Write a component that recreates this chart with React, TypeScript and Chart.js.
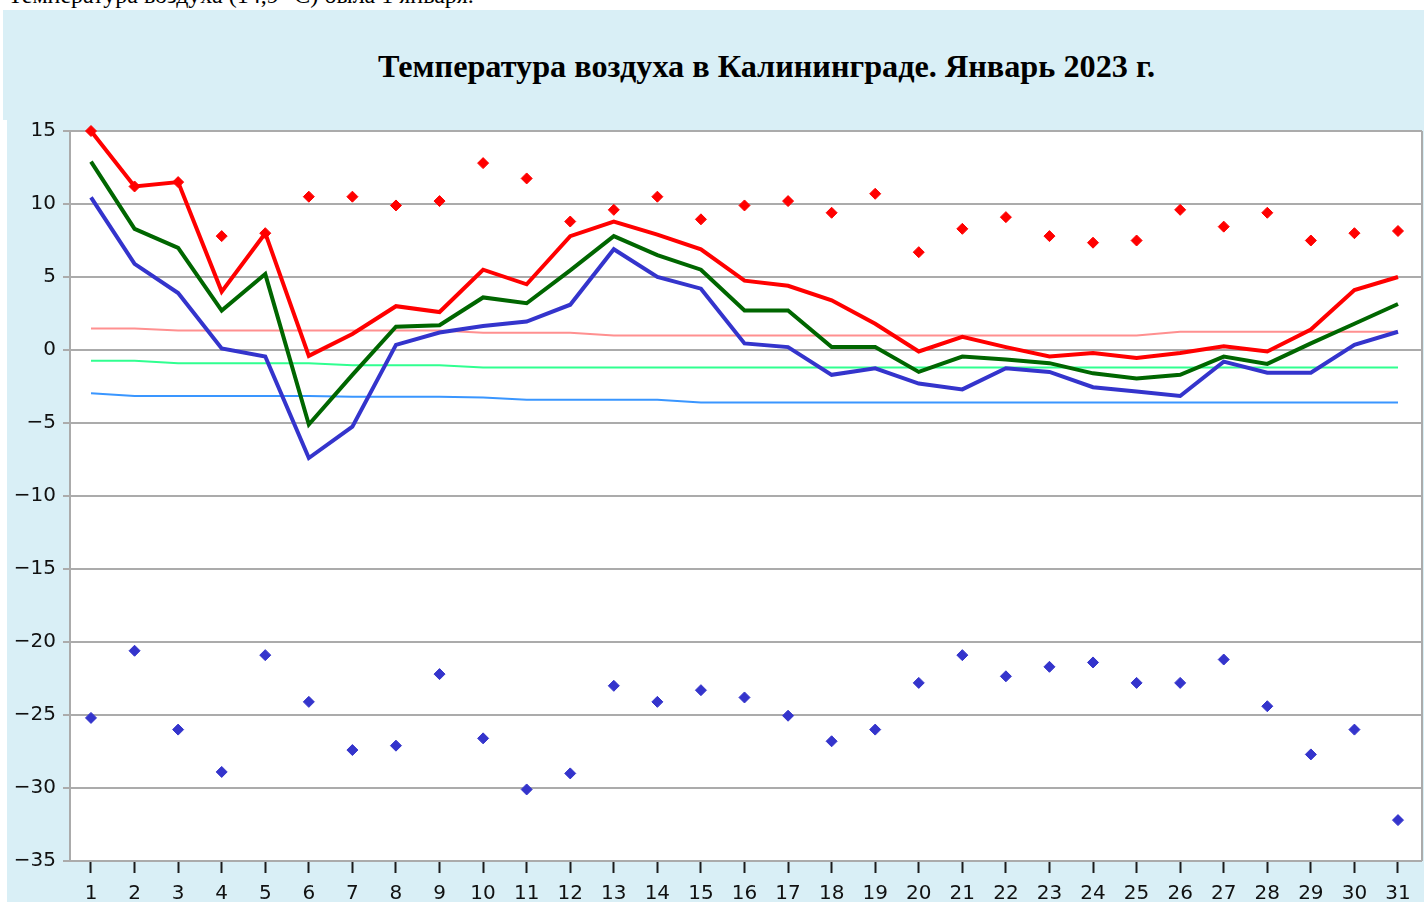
import React, { useEffect, useRef } from "react";
import { Chart, registerables } from "chart.js";

Chart.register(...registerables);

const days = [1, 2, 3, 4, 5, 6, 7, 8, 9, 10, 11, 12, 13, 14, 15, 16, 17, 18, 19, 20, 21, 22, 23, 24, 25, 26, 27, 28, 29, 30, 31];

const maxTemp = [15.0, 11.2, 11.5, 4.0, 8.0, -0.4, 1.1, 3.0, 2.6, 5.5, 4.5, 7.8, 8.8, 7.9, 6.9, 4.75, 4.4, 3.4, 1.8, -0.1, 0.9, 0.2, -0.45, -0.2, -0.55, -0.2, 0.25, -0.1, 1.4, 4.1, 5.0];
const meanTemp = [12.9, 8.3, 7.0, 2.7, 5.2, -5.1, -1.7, 1.6, 1.7, 3.6, 3.2, 5.45, 7.8, 6.5, 5.5, 2.7, 2.7, 0.2, 0.2, -1.5, -0.45, -0.65, -0.9, -1.6, -1.95, -1.7, -0.45, -0.95, 0.45, 1.8, 3.15];
const minTemp = [10.45, 5.9, 3.9, 0.1, -0.45, -7.4, -5.25, 0.35, 1.2, 1.65, 1.95, 3.1, 6.9, 5.0, 4.2, 0.45, 0.2, -1.7, -1.25, -2.3, -2.7, -1.25, -1.5, -2.55, -2.85, -3.15, -0.8, -1.55, -1.55, 0.35, 1.25];

const recordMax = [15.0, 11.2, 11.5, 7.8, 8.0, 10.5, 10.5, 9.9, 10.2, 12.8, 11.75, 8.8, 9.6, 10.5, 8.95, 9.9, 10.2, 9.4, 10.7, 6.7, 8.3, 9.1, 7.8, 7.35, 7.5, 9.6, 8.45, 9.4, 7.5, 8.0, 8.15];
const recordMin = [-25.2, -20.6, -26.0, -28.9, -20.9, -24.1, -27.4, -27.1, -22.2, -26.6, -30.1, -29.0, -23.0, -24.1, -23.3, -23.8, -25.05, -26.8, -26.0, -22.8, -20.9, -22.35, -21.7, -21.4, -22.8, -22.8, -21.2, -24.4, -27.7, -26.0, -32.2];

const normMax = [1.48, 1.48, 1.33, 1.33, 1.33, 1.33, 1.33, 1.33, 1.33, 1.18, 1.18, 1.18, 1.0, 1.0, 1.0, 1.0, 1.0, 1.0, 1.0, 1.0, 1.0, 1.0, 1.0, 1.0, 1.0, 1.25, 1.25, 1.25, 1.25, 1.25, 1.25];
const normMean = [-0.73, -0.73, -0.9, -0.9, -0.9, -0.9, -1.05, -1.05, -1.05, -1.2, -1.2, -1.2, -1.2, -1.2, -1.2, -1.2, -1.2, -1.2, -1.2, -1.2, -1.2, -1.2, -1.2, -1.2, -1.2, -1.2, -1.2, -1.2, -1.2, -1.2, -1.2];
const normMin = [-2.97, -3.15, -3.15, -3.15, -3.15, -3.15, -3.2, -3.2, -3.2, -3.25, -3.4, -3.4, -3.4, -3.4, -3.6, -3.6, -3.6, -3.6, -3.6, -3.6, -3.6, -3.6, -3.6, -3.6, -3.6, -3.6, -3.6, -3.6, -3.6, -3.6, -3.6];

const yTicks = [15, 10, 5, 0, -5, -10, -15, -20, -25, -30, -35];

const TITLE = "Температура воздуха в Калининграде. Январь 2023 г.";
const TOP_TEXT = "Температура воздуха (14,9 °C) была 1 января.";

const RED = "#ff0000";
const BLUE = "#3434cc";
const GREEN = "#006600";
const PANEL = "#d9eff6";
const GRID = "#ababab";

const pts = (arr: number[]) => arr.map((v, i) => ({ x: days[i], y: v }));

const bgPlugin = {
  id: "plotBg",
  beforeDraw(chart: any) {
    const { ctx, chartArea: a } = chart;
    ctx.save();
    ctx.fillStyle = "#ffffff";
    ctx.fillRect(a.left, a.top, a.right - a.left, a.bottom - a.top);
    ctx.restore();
  },
  beforeDatasetsDraw(chart: any) {
    const { ctx, chartArea: a } = chart;
    ctx.save();
    ctx.strokeStyle = GRID;
    ctx.lineWidth = 2;
    ctx.beginPath();
    ctx.moveTo(a.right, a.top);
    ctx.lineTo(a.right, a.bottom);
    ctx.stroke();
    ctx.restore();
  },
};

export default function App() {
  const canvasRef = useRef<HTMLCanvasElement>(null);
  const titleRef = useRef<HTMLDivElement>(null);

  useEffect(() => {
    const t = titleRef.current;
    if (t) {
      t.style.transform = "none";
      const w = t.getBoundingClientRect().width;
      if (w > 0) t.style.transform = `scaleX(${777 / w})`;
    }
    const canvas = canvasRef.current;
    if (!canvas) return;
    const line = (data: number[], color: string, width: number) => ({
      data: pts(data),
      borderColor: color,
      backgroundColor: color,
      borderWidth: width,
      pointRadius: 0,
      tension: 0,
      fill: false,
      clip: false as any,
    });
    const marks = (data: number[], color: string) => ({
      data: pts(data),
      showLine: false,
      borderColor: color,
      backgroundColor: color,
      pointStyle: "rectRot" as any,
      pointRadius: 5.5,
      pointBorderWidth: 1,
      pointBackgroundColor: color,
      pointBorderColor: color,
      clip: false as any,
    });
    const chart = new Chart(canvas, {
      type: "line",
      data: {
        datasets: [
          { label: "Абсолютный максимум", ...marks(recordMax, RED) },
          { label: "Абсолютный минимум", ...marks(recordMin, BLUE) },
          { label: "Максимальная", ...line(maxTemp, RED, 4) },
          { label: "Средняя", ...line(meanTemp, GREEN, 4) },
          { label: "Минимальная", ...line(minTemp, BLUE, 4) },
          { label: "Норма максимальной", ...line(normMax, "#ff9090", 2) },
          { label: "Норма средней", ...line(normMean, "#30ff90", 2) },
          { label: "Норма минимальной", ...line(normMin, "#3a96ff", 2) },
        ] as any,
      },
      options: {
        responsive: false,
        animation: false,
        devicePixelRatio: 1,
        events: [],
        layout: { autoPadding: false, padding: { top: 131, right: 2, left: 0, bottom: 0 } },
        plugins: {
          legend: { display: false },
          tooltip: { enabled: false },
          title: { display: false },
        },
        scales: {
          x: {
            type: "linear",
            min: 0.518,
            max: 31.551,
            afterFit: (s: any) => {
              s.height = 41;
              s.paddingLeft = 0;
              s.paddingRight = 0;
            },
            afterBuildTicks: (s: any) => {
              s.ticks = days.map((d) => ({ value: d }));
            },
            grid: {
              drawOnChartArea: false,
              drawTicks: true,
              tickLength: 12,
              tickWidth: 2,
              tickColor: "#1c1c1c",
            },
            border: { display: false },
            ticks: {
              autoSkip: false,
              maxRotation: 0,
              minRotation: 0,
              padding: 9,
              color: "#111111",
              font: { family: "'DejaVu Sans'", size: 20 },
              callback: (v: any) => String(v),
            },
          },
          y: {
            type: "linear",
            min: -35,
            max: 15,
            afterFit: (s: any) => {
              s.width = 70;
              s.paddingTop = 0;
              s.paddingBottom = 0;
            },
            afterBuildTicks: (s: any) => {
              s.ticks = yTicks.map((v) => ({ value: v }));
            },
            grid: {
              color: GRID,
              lineWidth: 2,
              tickLength: 7,
              drawTicks: true,
            },
            border: { display: true, color: GRID, width: 2 },
            ticks: {
              padding: 7,
              color: "#111111",
              font: { family: "'DejaVu Sans'", size: 20 },
              callback: (v: any) => String(v).replace("-", "\u2212"),
            },
          },
        },
      } as any,
      plugins: [bgPlugin],
    });
    return () => chart.destroy();
  }, []);

  return (
    <div
      style={{
        position: "fixed",
        left: 0,
        top: 0,
        width: 1424,
        height: 902,
        overflow: "hidden",
        background: "#ffffff",
      }}
    >
      <div
        style={{
          position: "absolute",
          left: 8,
          top: -17,
          fontFamily: "'Liberation Serif', serif",
          fontSize: 24,
          lineHeight: "24px",
          whiteSpace: "nowrap",
          color: "#000",
        }}
      >
        {TOP_TEXT}
      </div>
      <div style={{ position: "absolute", left: 3, top: 10, width: 1421, height: 110, background: PANEL }} />
      <div style={{ position: "absolute", left: 7, top: 120, width: 1417, height: 782, background: PANEL }} />
      <div
        ref={titleRef}
        style={{
          position: "absolute",
          left: 378,
          top: 51,
          fontFamily: "'Liberation Serif', serif",
          fontWeight: "bold",
          fontSize: 31,
          lineHeight: "31px",
          whiteSpace: "nowrap",
          color: "#000",
          transformOrigin: "0 0",
        }}
      >
        {TITLE}
      </div>
      <canvas
        ref={canvasRef}
        width={1424}
        height={902}
        style={{ position: "absolute", left: 0, top: 0, width: 1424, height: 902 }}
      />
    </div>
  );
}
